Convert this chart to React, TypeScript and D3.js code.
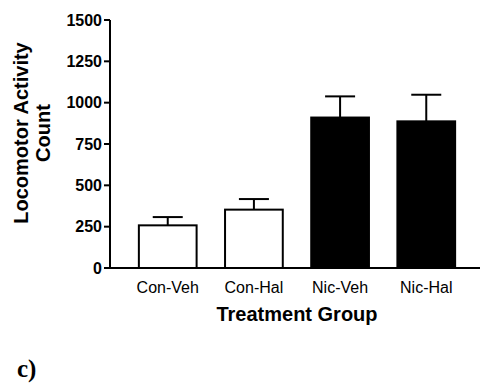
import React from "react";
import * as d3 from "d3";

// Locomotor activity per treatment group (mean and SEM)
const groups = ["Con-Veh", "Con-Hal", "Nic-Veh", "Nic-Hal"];
const means = [258, 353, 910, 887];
const errors = [50, 64, 128, 161];
const fills = ["#ffffff", "#ffffff", "#000000", "#000000"];
const yTicks = [0, 250, 500, 750, 1000, 1250, 1500];

const W = 480;
const H = 386;
const left = 110;
const top = 20;
const bottom = 268;

export default function App() {
  const x = d3
    .scaleBand<string>()
    .domain(groups)
    .range([left, 484])
    .paddingInner(0.33)
    .paddingOuter(0.335);
  const y = d3.scaleLinear().domain([0, 1500]).range([bottom, top]);
  const bw = x.bandwidth();
  const cap = 30;
  const sans = "'Liberation Sans', Arial, Helvetica, sans-serif";

  return (
    <svg
      width={W}
      height={H}
      viewBox={`0 0 ${W} ${H}`}
      style={{ position: "absolute", left: 0, top: 0, background: "#fff" }}
    >
      <rect width={W} height={H} fill="#fff" />

      {/* bars with upward error bars */}
      {groups.map((g, i) => {
        const x0 = x(g)!;
        const cx = x0 + bw / 2;
        const yTop = y(means[i]);
        const yErr = y(means[i] + errors[i]);
        return (
          <g key={g}>
            <line x1={cx} x2={cx} y1={yTop} y2={yErr} stroke="#000" strokeWidth={2} />
            <line x1={cx - cap / 2} x2={cx + cap / 2} y1={yErr} y2={yErr} stroke="#000" strokeWidth={2} />
            <rect
              x={x0}
              y={yTop}
              width={bw}
              height={bottom - yTop}
              fill={fills[i]}
              stroke="#000"
              strokeWidth={2}
            />
          </g>
        );
      })}

      {/* y axis */}
      <line x1={left} x2={left} y1={top} y2={bottom} stroke="#000" strokeWidth={2} />
      {yTicks.map((t) => (
        <g key={t}>
          <line x1={left - 6} x2={left} y1={y(t)} y2={y(t)} stroke="#000" strokeWidth={2} />
          <text
            x={left - 8}
            y={y(t)}
            dy="0.35em"
            textAnchor="end"
            fontFamily={sans}
            fontWeight="bold"
            fontSize={16}
          >
            {t}
          </text>
        </g>
      ))}

      {/* x axis */}
      <line x1={left} x2={W} y1={bottom} y2={bottom} stroke="#000" strokeWidth={2} />
      {groups.map((g) => (
        <text
          key={g}
          x={x(g)! + bw / 2}
          y={293}
          textAnchor="middle"
          fontFamily={sans}
          fontSize={16}
        >
          {g}
        </text>
      ))}

      <text x={297} y={321} textAnchor="middle" fontFamily={sans} fontWeight="bold" fontSize={20}>
        Treatment Group
      </text>

      <g fontFamily={sans} fontWeight="bold" fontSize={20} textAnchor="middle">
        <text transform="translate(28,133) rotate(-90)">Locomotor Activity</text>
        <text transform="translate(50,133) rotate(-90)">Count</text>
      </g>

      <text
        x={17}
        y={377}
        fontFamily="'Liberation Serif', 'Times New Roman', serif"
        fontWeight="bold"
        fontSize={25}
      >
        c)
      </text>
    </svg>
  );
}
